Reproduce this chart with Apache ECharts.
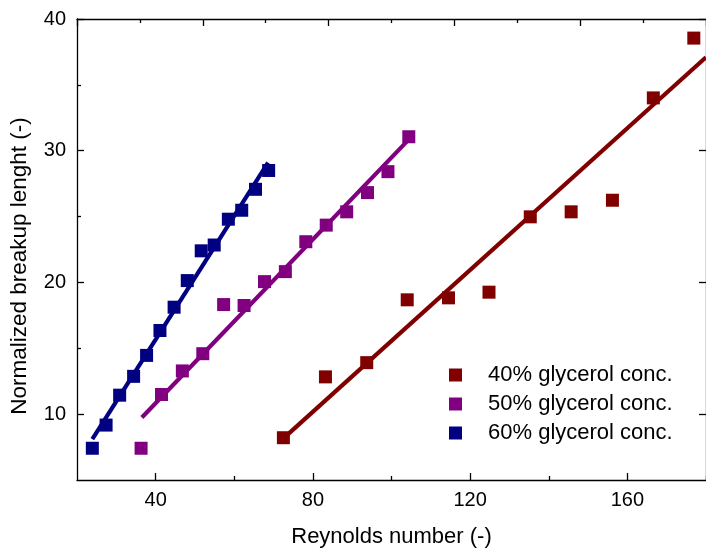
<!DOCTYPE html>
<html><head><meta charset="utf-8">
<script src="https://cdn.jsdelivr.net/npm/echarts@6/dist/echarts.min.js"></script>
<style>html,body{margin:0;padding:0;background:#fff;}#c{width:706px;height:553px;}</style>
</head><body><div id="c"></div>
<script>
// ---- data ----
const seriesNames = ['40% glycerol conc.', '50% glycerol conc.', '60% glycerol conc.'];
const re40  = [72.5, 83.2, 93.7, 104.0, 114.5, 124.8, 135.3, 145.7, 156.2, 166.6, 176.9];
const len40 = [8.21, 12.83, 13.91, 18.68, 18.83, 19.26, 24.98, 25.36, 26.24, 34.01, 38.55];
const re50  = [36.3, 41.5, 46.8, 52.0, 57.3, 62.5, 67.7, 73.0, 78.2, 83.4, 88.6, 93.9, 99.1, 104.4];
const len50 = [7.41, 11.49, 13.28, 14.59, 18.32, 18.25, 20.06, 20.82, 23.09, 24.35, 25.36, 26.82, 28.41, 31.06];
const re60  = [23.9, 27.4, 30.85, 34.4, 37.7, 41.1, 44.7, 48.05, 51.6, 54.9, 58.5, 61.9, 65.4, 68.75];
const len60 = [7.41, 9.17, 11.44, 12.87, 14.46, 16.35, 18.12, 20.14, 22.4, 22.84, 24.8, 25.48, 27.07, 28.5];
// fitted lines (end points)
const fit40Re = [72.5, 180];  const fit40Len = [8.16, 37.1];
const fit50Re = [36.5, 104.0]; const fit50Len = [9.75, 30.73];
const fit60Re = [23.9, 68.6];  const fit60Len = [8.11, 29.09];
// ticks
const xMajorTicks = [40, 80, 120, 160];
const xMinorTicks = [60, 100, 140, 180];
const yMajorTicks = [10, 20, 30, 40];
const yMinorTicks = [15, 25, 35];
const colors = ['#800000', '#800080', '#000080'];

const FONT = '"Liberation Sans", Arial, sans-serif';
const zip = (a, b) => a.map((v, i) => [v, b[i]]);
const lineAx = {show: true, lineStyle: {color: '#000', width: 1.3}};

const chart = echarts.init(document.getElementById('c'), null, {renderer: 'canvas'});
chart.setOption({
  animation: false,
  backgroundColor: '#fff',
  grid: {left: 76, top: 19, right: -6, bottom: 71.3, containLabel: false},
  legend: {
    data: seriesNames.map(n => ({name: n, icon: 'rect'})),
    orient: 'vertical', left: 444, top: 359,
    itemWidth: 13, itemHeight: 13, itemGap: 7,
    textStyle: {fontFamily: FONT, fontSize: 22, lineHeight: 22, color: '#000', padding: [0, 0, 0, 21]},
    selectedMode: false
  },
  xAxis: [
    {type: 'value', position: 'bottom', min: 20, max: 180,
     axisLine: lineAx,
     axisTick: {show: true, inside: true, length: 7, customValues: xMajorTicks, lineStyle: {color: '#000', width: 1.3}},
     axisLabel: {customValues: xMajorTicks, fontFamily: FONT, fontSize: 20, color: '#000', margin: 10},
     splitLine: {show: false},
     name: 'Reynolds number (-)', nameLocation: 'middle', nameGap: 46,
     nameTextStyle: {fontFamily: FONT, fontSize: 22, color: '#000'}},
    {type: 'value', position: 'bottom', min: 20, max: 180,
     axisLine: {show: false},
     axisTick: {show: true, inside: true, length: 4, customValues: xMinorTicks, lineStyle: {color: '#000', width: 1.3}},
     axisLabel: {show: false}, splitLine: {show: false}},
    {type: 'value', position: 'top', min: 0, max: 10, interval: 2,
     axisLine: lineAx,
     axisTick: {show: true, inside: true, length: 7, lineStyle: {color: '#000', width: 1.3}},
     minorTick: {show: true, splitNumber: 2, length: 4, lineStyle: {color: '#000', width: 1.3}},
     axisLabel: {show: false}, splitLine: {show: false}}
  ],
  yAxis: [
    {type: 'value', position: 'left', min: 5, max: 40,
     axisLine: lineAx,
     axisTick: {show: true, inside: true, length: 7, customValues: yMajorTicks, lineStyle: {color: '#000', width: 1.3}},
     axisLabel: {customValues: yMajorTicks, fontFamily: FONT, fontSize: 20, color: '#000', margin: 11},
     splitLine: {show: false},
     name: 'Normalized breakup lenght (-)', nameLocation: 'middle', nameGap: 46, nameRotate: 90,
     nameTextStyle: {fontFamily: FONT, fontSize: 22.5, color: '#000', padding: [0, 33, 0, 0]}},
    {type: 'value', position: 'left', min: 5, max: 40,
     axisLine: {show: false},
     axisTick: {show: true, inside: true, length: 4, customValues: yMinorTicks, lineStyle: {color: '#000', width: 1.3}},
     axisLabel: {show: false}, splitLine: {show: false}},
    {type: 'value', position: 'right', min: 5, max: 40,
     axisLine: lineAx,
     axisTick: {show: true, inside: true, length: 7, customValues: yMajorTicks, lineStyle: {color: '#000', width: 1.3}},
     axisLabel: {show: false}, splitLine: {show: false}}
  ],
  series: [
    {type: 'line', data: zip(fit40Re, fit40Len), showSymbol: false, symbol: 'none', lineStyle: {color: colors[0], width: 4.2}, z: 2, silent: true},
    {type: 'line', data: zip(fit50Re, fit50Len), showSymbol: false, symbol: 'none', lineStyle: {color: colors[1], width: 4.2}, z: 2, silent: true},
    {type: 'line', data: zip(fit60Re, fit60Len), showSymbol: false, symbol: 'none', lineStyle: {color: colors[2], width: 4.2}, z: 2, silent: true},
    {name: seriesNames[0], type: 'scatter', symbol: 'rect', symbolSize: 13, data: zip(re40, len40), itemStyle: {color: colors[0], opacity: 1}, z: 3},
    {name: seriesNames[1], type: 'scatter', symbol: 'rect', symbolSize: 13, data: zip(re50, len50), itemStyle: {color: colors[1], opacity: 1}, z: 3},
    {name: seriesNames[2], type: 'scatter', symbol: 'rect', symbolSize: 13, data: zip(re60, len60), itemStyle: {color: colors[2], opacity: 1}, z: 3}
  ]
});
</script></body></html>
